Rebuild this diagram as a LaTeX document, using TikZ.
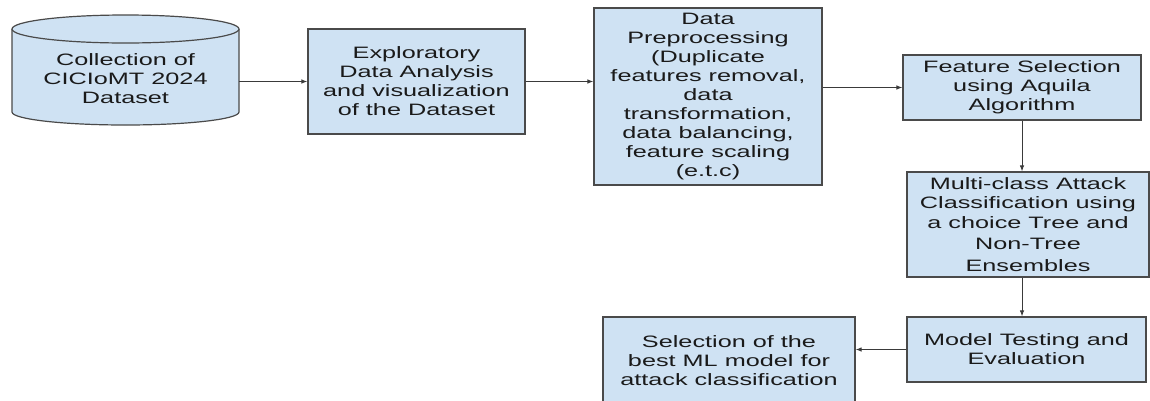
\documentclass[tikz,border=0pt]{standalone}
\usepackage{fontspec}
\setmainfont[FakeStretch=1.53]{Liberation Sans}
\usetikzlibrary{arrows.meta}
\definecolor{boxfill}{HTML}{CFE2F3}
\definecolor{boxline}{HTML}{4A4A4A}
\definecolor{inkc}{HTML}{1A1A1A}
\definecolor{wire}{HTML}{3A3A3A}
\begin{document}
\begin{tikzpicture}[x=1pt,y=-1pt,
  label text/.style={inner sep=0pt, align=center, text=inkc,
    font=\fontsize{16.5}{19}\selectfont},
  stage/.style={label text, draw=boxline, line width=1.2pt, fill=boxfill},
  link/.style={draw=wire, line width=0.9pt, -{Latex[length=6pt,width=4.5pt]}}]
\fill[white] (0,0) rectangle (1150,400);
\useasboundingbox (0,0) rectangle (1150,400);

% dataset cylinder
\fill[boxfill] (12,29) -- (12,112)
  .. controls (12,119.18) and (62.81,125) .. (125.5,125)
  .. controls (188.19,125) and (239,119.18) .. (239,112) -- (239,29) -- cycle;
\draw[boxline, line width=1.2pt] (12,29) -- (12,112)
  .. controls (12,119.18) and (62.81,125) .. (125.5,125)
  .. controls (188.19,125) and (239,119.18) .. (239,112) -- (239,29);
\draw[boxline, line width=1.2pt, fill=boxfill] (125.5,29) ellipse [x radius=113.5, y radius=14];
\node[label text, minimum width=227pt] (coll) at (125.5,79)
  {Collection of\\CICIoMT 2024\\Dataset};

% process boxes
\node[stage, minimum width=217pt, minimum height=105pt] (eda) at (416.5,81.5)
  {Exploratory\\Data Analysis\\and visualization\\of the Dataset};
\node[stage, minimum width=228pt, minimum height=177pt] (prep) at (708,96.5)
  {Data\\Preprocessing\\(Duplicate\\features removal,\\data\\transformation,\\data balancing,\\feature scaling\\(e.t.c)};
\node[stage, minimum width=238pt, minimum height=65pt] (fsel) at (1022,87.5)
  {Feature Selection\\using Aquila\\Algorithm};
\node[stage, minimum width=242pt, minimum height=105pt] (mcls) at (1028,224.5)
  {Multi-class Attack\\Classification using\\[1pt]a choice Tree and\\[2pt]Non-Tree\\[3pt]Ensembles};
\node[stage, minimum width=239pt, minimum height=65pt] (mtest) at (1026.5,349.5)
  {Model Testing and\\Evaluation};
\node[stage, minimum width=252pt, minimum height=88pt] (best) at (729,361)
  {Selection of the\\best ML model for\\attack classification};

% connectors
\draw[link] (coll.east |- eda.west) -- (eda.west);
\draw[link] (eda.east) -- (eda.east -| prep.west);
\draw[link] (prep.east |- fsel.west) -- (fsel.west);
\draw[link] (fsel.south) -- (fsel.south |- mcls.north);
\draw[link] (fsel.south |- mcls.south) -- (fsel.south |- mtest.north);
\draw[link] (mtest.west) -- (mtest.west -| best.east);
\end{tikzpicture}
\end{document}
